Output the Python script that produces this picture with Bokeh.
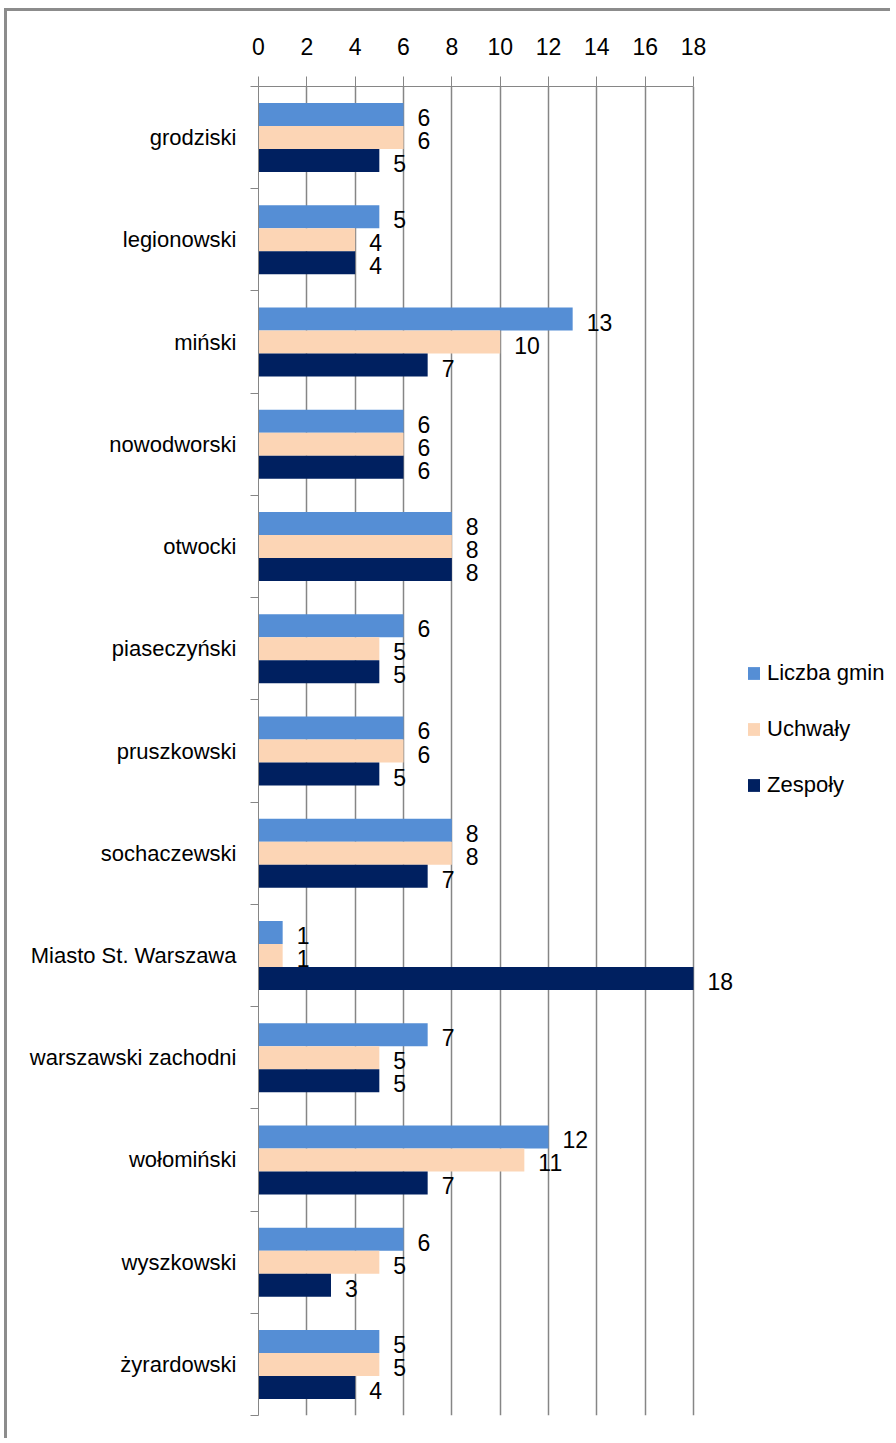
from bokeh.plotting import figure
from bokeh.models import Range1d, ColumnDataSource, FixedTicker, Legend, LegendItem
from bokeh.transform import dodge
from bokeh.core.properties import value
from bokeh.embed import file_html
from bokeh.resources import INLINE

categories = ["grodziski", "legionowski", "miński", "nowodworski", "otwocki", "piaseczyński",
              "pruszkowski", "sochaczewski", "Miasto St. Warszawa", "warszawski zachodni",
              "wołomiński", "wyszkowski", "żyrardowski"]
liczba_gmin = [6, 5, 13, 6, 8, 6, 6, 8, 1, 7, 12, 6, 5]
uchwaly = [6, 4, 10, 6, 8, 5, 6, 8, 1, 5, 11, 5, 5]
zespoly = [5, 4, 7, 6, 8, 5, 5, 7, 18, 5, 7, 3, 4]
series_names = ["Liczba gmin", "Uchwały", "Zespoły"]
colors = ["#558ED5", "#FCD5B5", "#002060"]
x_ticks = list(range(0, 19, 2))
x_max = 18

FONT = "Liberation Sans"
GRAY = "#868686"

n = len(categories)
# category slot centres, first category at the top
slot = [n - i - 0.5 for i in range(n)]

src = ColumnDataSource(dict(cat=categories, pos=slot, a=liczba_gmin, b=uchwaly, c=zespoly,
                            la=[str(v) for v in liczba_gmin],
                            lb=[str(v) for v in uchwaly],
                            lc=[str(v) for v in zespoly]))

W, LEFT = 886, 251
PLOT_W = 435          # pixel width of the 0..18 value axis
frame_w = W - LEFT
p = figure(width=W, height=1430, output_backend="svg", toolbar_location=None,
           y_range=Range1d(0, n), x_range=Range1d(0, x_max * frame_w / PLOT_W),
           x_axis_location="above",
           min_border_left=LEFT, min_border_right=0, min_border_top=75, min_border_bottom=26)
p.styles = {"border-left": "3px solid #8c8c8c", "border-top": "3px solid #8c8c8c",
            "margin-left": "4px", "margin-top": "8px"}
p.outline_line_color = None
p.ygrid.grid_line_color = None
p.xgrid.grid_line_color = GRAY
p.xgrid.grid_line_width = 1.5
p.xgrid.ticker = FixedTicker(ticks=x_ticks)

xa = p.xaxis[0]
xa.ticker = FixedTicker(ticks=x_ticks)
xa.bounds = (0, x_max)
xa.major_tick_out = 10
xa.major_tick_in = 0
xa.minor_tick_line_color = None
xa.axis_line_color = GRAY
xa.major_tick_line_color = GRAY
xa.major_label_text_font = FONT
xa.major_label_text_font_size = "23px"
xa.major_label_text_color = "#000000"
xa.major_label_standoff = 22

ya = p.yaxis[0]
ya.ticker = FixedTicker(ticks=slot, minor_ticks=list(range(n + 1)))
ya.major_label_overrides = {s: c for s, c in zip(slot, categories)}
ya.major_tick_out = 0
ya.major_tick_in = 0
ya.major_tick_line_color = None
ya.minor_tick_out = 8
ya.minor_tick_in = 0
ya.minor_tick_line_color = GRAY
ya.axis_line_color = GRAY
ya.major_label_text_font = FONT
ya.major_label_text_font_size = "22px"
ya.major_label_text_color = "#000000"
ya.major_label_standoff = 14

H = 0.225
offs = [H, 0.0, -H]
fields = ["a", "b", "c"]
lfields = ["la", "lb", "lc"]
renderers = []
for f, lf, off, col in zip(fields, lfields, offs, colors):
    r = p.hbar(y=dodge("pos", off), left=0, right=f, height=H,
               source=src, fill_color=col, line_color=None)
    renderers.append(r)
    p.text(x=f, y=dodge("pos", off), text=lf, source=src,
           x_offset=14, y_offset=3, text_baseline="middle", text_align="left",
           text_font=value(FONT), text_font_size="23px", text_color="#000000")

legend = Legend(items=[LegendItem(label=nm, renderers=[r]) for nm, r in zip(series_names, renderers)],
                location=(488, 617), glyph_width=15, glyph_height=16, label_height=20,
                spacing=30, padding=0, margin=0, border_line_color=None,
                background_fill_alpha=0, label_text_font=FONT, label_text_font_size="22px",
                label_standoff=6, label_text_color="#000000")
p.add_layout(legend, "center")

open("out.html", "w").write(file_html(p, INLINE))
